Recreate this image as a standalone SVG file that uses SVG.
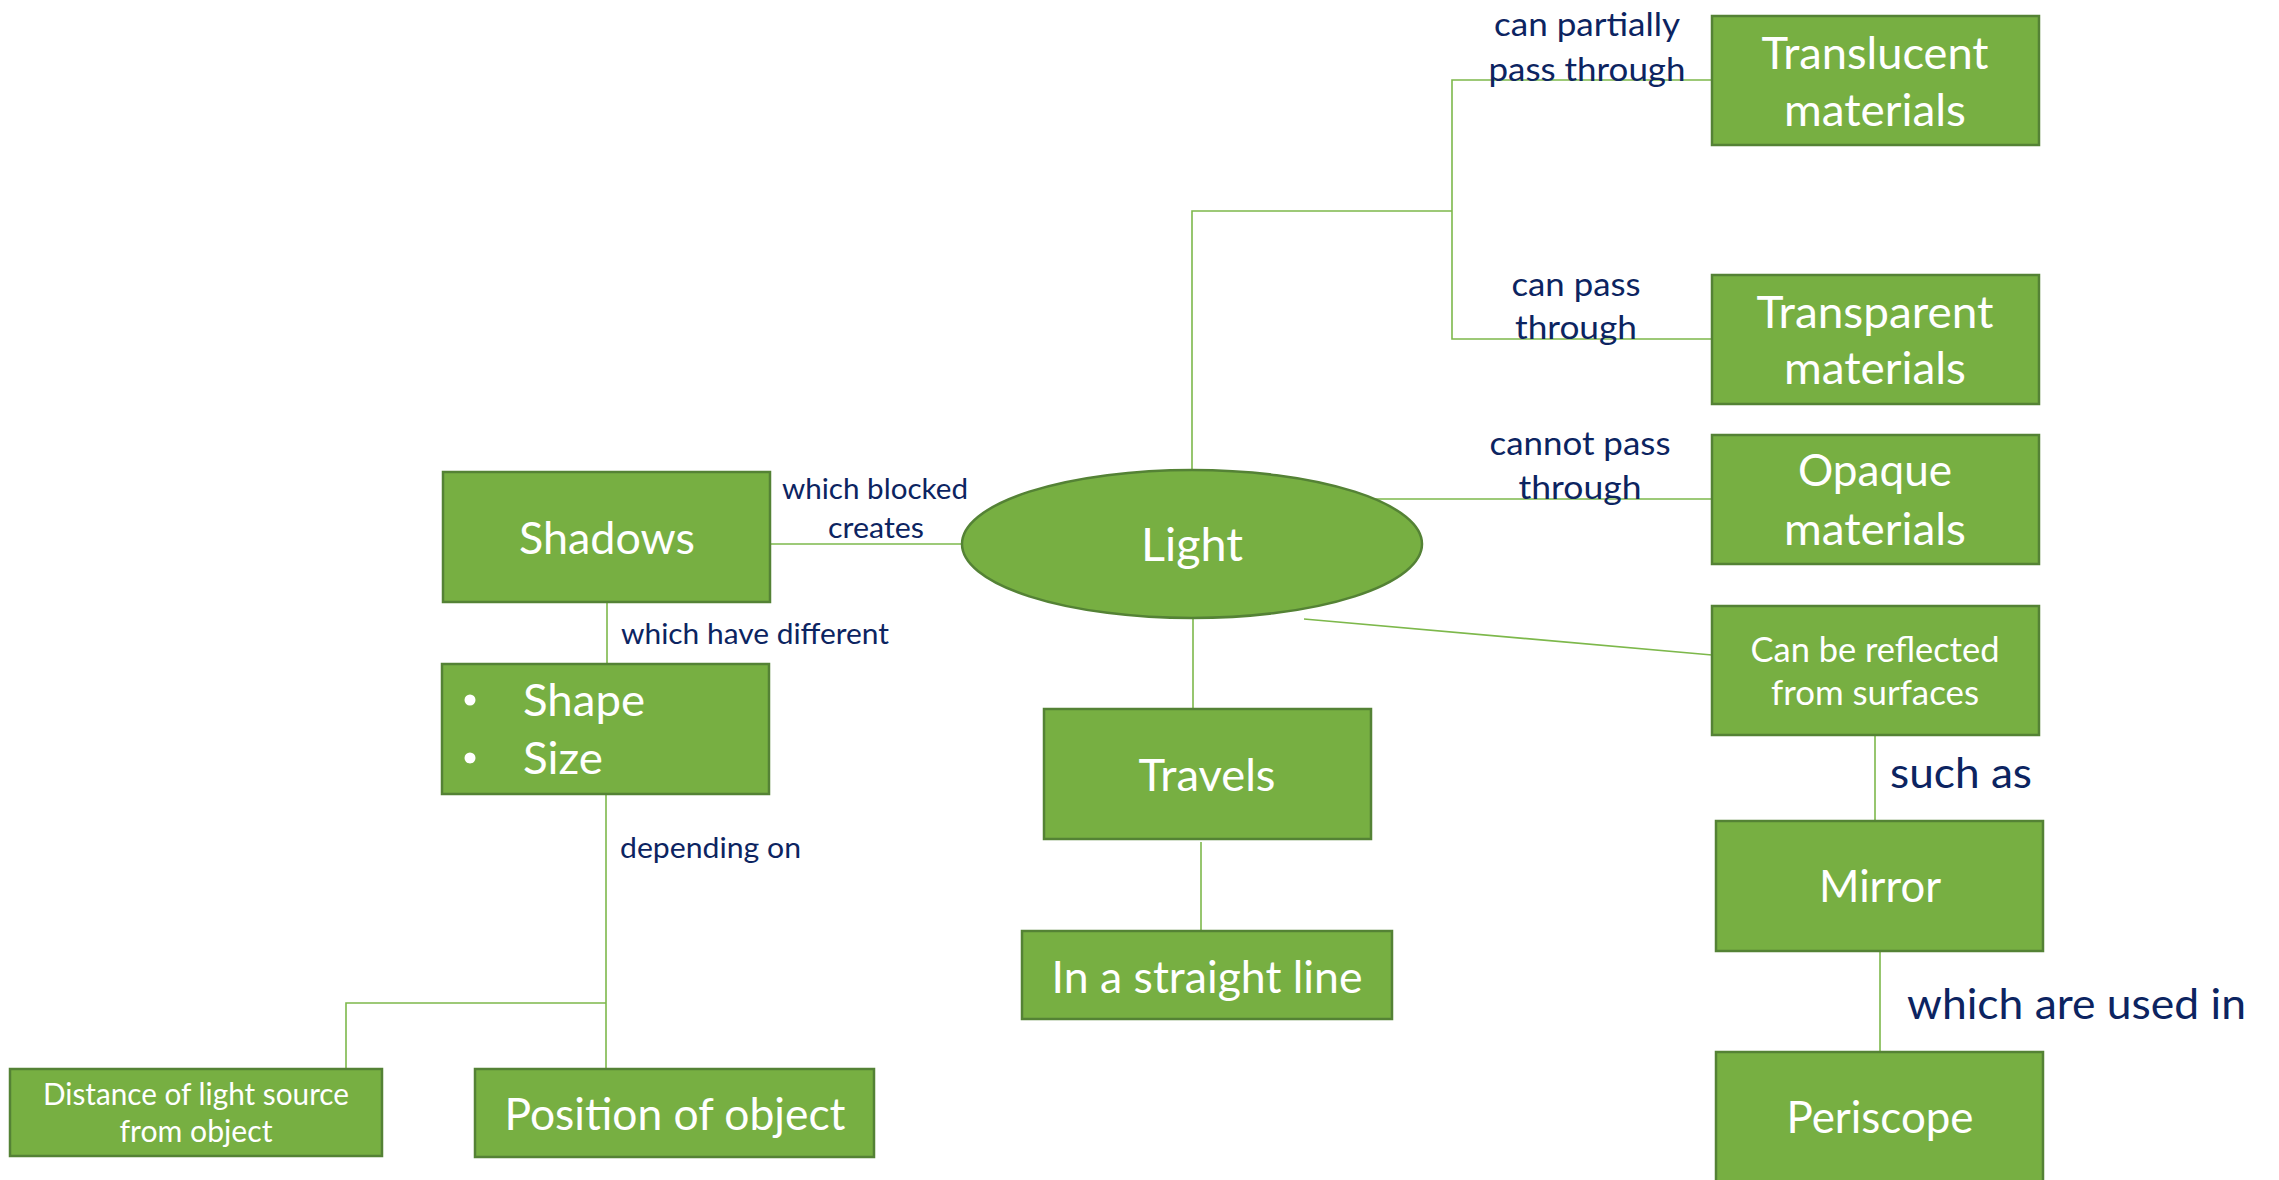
<svg xmlns="http://www.w3.org/2000/svg" width="2279" height="1180" viewBox="0 0 2279 1180">
<style>
.box{fill:#77AF42;stroke:#548235;stroke-width:2.5}
.conn{fill:none;stroke:#7DB84B;stroke-width:1.6}
.t{font-family:Lato,"Liberation Sans",sans-serif;fill:#FFFFFF;text-anchor:middle}
.tl{font-family:Lato,"Liberation Sans",sans-serif;fill:#FFFFFF;text-anchor:start}
.l{font-family:Lato,"Liberation Sans",sans-serif;fill:#0C2461;text-anchor:middle}
.ls{font-family:Lato,"Liberation Sans",sans-serif;fill:#0C2461;text-anchor:start}
</style>
<rect width="2279" height="1180" fill="#FFFFFF"/>
<g id="connectors">
<path class="conn" d="M1192 469 V211 H1452"/>
<path class="conn" d="M1712 80 H1452 V339 H1712"/>
<path class="conn" d="M1374 499 H1712"/>
<path class="conn" d="M1304 619 L1712 655"/>
<path class="conn" d="M1875 735 V821"/>
<path class="conn" d="M1880 951 V1052"/>
<path class="conn" d="M1193 618 V709"/>
<path class="conn" d="M1201 842 V931"/>
<path class="conn" d="M770 544 H962"/>
<path class="conn" d="M607 602 V664"/>
<path class="conn" d="M606 794 V1069"/>
<path class="conn" d="M346 1069 V1003 H606"/>
</g>
<g id="labels">
<text class="l" font-size="33" x="1587" y="36" textLength="186" lengthAdjust="spacingAndGlyphs">can partially</text>
<text class="l" font-size="33" x="1587" y="81" textLength="197" lengthAdjust="spacingAndGlyphs">pass through</text>
<text class="l" font-size="33" x="1576" y="296" textLength="129" lengthAdjust="spacingAndGlyphs">can pass</text>
<text class="l" font-size="33" x="1576" y="339" textLength="122" lengthAdjust="spacingAndGlyphs">through</text>
<text class="l" font-size="33" x="1580" y="455" textLength="181" lengthAdjust="spacingAndGlyphs">cannot pass</text>
<text class="l" font-size="33" x="1580" y="499" textLength="123" lengthAdjust="spacingAndGlyphs">through</text>
<text class="l" font-size="28" x="875" y="499" textLength="186" lengthAdjust="spacingAndGlyphs">which blocked</text>
<text class="l" font-size="28" x="876" y="538" textLength="96" lengthAdjust="spacingAndGlyphs">creates</text>
<text class="ls" font-size="28" x="621" y="644" textLength="268" lengthAdjust="spacingAndGlyphs">which have different</text>
<text class="ls" font-size="28" x="620" y="858" textLength="181" lengthAdjust="spacingAndGlyphs">depending on</text>
<text class="ls" font-size="43" x="1890" y="788" textLength="142" lengthAdjust="spacingAndGlyphs">such as</text>
<text class="ls" font-size="43" x="1907" y="1019" textLength="339" lengthAdjust="spacingAndGlyphs">which are used in</text>
</g>
<g id="translucent">
<rect class="box" x="1712" y="16" width="327" height="129"/>
<text class="t" font-size="44" x="1875" y="69" textLength="227" lengthAdjust="spacingAndGlyphs">Translucent</text>
<text class="t" font-size="44" x="1875" y="126" textLength="182" lengthAdjust="spacingAndGlyphs">materials</text>
</g>
<g id="transparent">
<rect class="box" x="1712" y="275" width="327" height="129"/>
<text class="t" font-size="44" x="1875" y="328" textLength="237" lengthAdjust="spacingAndGlyphs">Transparent</text>
<text class="t" font-size="44" x="1875" y="384" textLength="182" lengthAdjust="spacingAndGlyphs">materials</text>
</g>
<g id="opaque">
<rect class="box" x="1712" y="435" width="327" height="129"/>
<text class="t" font-size="44" x="1875" y="486" textLength="154" lengthAdjust="spacingAndGlyphs">Opaque</text>
<text class="t" font-size="44" x="1875" y="545" textLength="182" lengthAdjust="spacingAndGlyphs">materials</text>
</g>
<g id="reflected">
<rect class="box" x="1712" y="606" width="327" height="129"/>
<text class="t" font-size="34" x="1875" y="662" textLength="249" lengthAdjust="spacingAndGlyphs">Can be reflected</text>
<text class="t" font-size="34" x="1875" y="705" textLength="208" lengthAdjust="spacingAndGlyphs">from surfaces</text>
</g>
<g id="mirror">
<rect class="box" x="1716" y="821" width="327" height="130"/>
<text class="t" font-size="44" x="1880" y="902" textLength="122" lengthAdjust="spacingAndGlyphs">Mirror</text>
</g>
<g id="periscope">
<rect class="box" x="1716" y="1052" width="327" height="140"/>
<text class="t" font-size="44" x="1880" y="1133" textLength="187" lengthAdjust="spacingAndGlyphs">Periscope</text>
</g>
<g id="light">
<ellipse class="box" cx="1192" cy="544" rx="230" ry="74"/>
<text class="t" font-size="46" x="1192" y="561" textLength="102" lengthAdjust="spacingAndGlyphs">Light</text>
</g>
<g id="shadows">
<rect class="box" x="443" y="472" width="327" height="130"/>
<text class="t" font-size="44" x="607" y="554" textLength="176" lengthAdjust="spacingAndGlyphs">Shadows</text>
</g>
<g id="shape-size">
<rect class="box" x="442" y="664" width="327" height="130"/>
<circle cx="470" cy="700" r="5.5" fill="#FFFFFF"/>
<circle cx="470" cy="758" r="5.5" fill="#FFFFFF"/>
<text class="tl" font-size="44" x="523" y="716" textLength="122" lengthAdjust="spacingAndGlyphs">Shape</text>
<text class="tl" font-size="44" x="523" y="774" textLength="80" lengthAdjust="spacingAndGlyphs">Size</text>
</g>
<g id="travels">
<rect class="box" x="1044" y="709" width="327" height="130"/>
<text class="t" font-size="44" x="1207" y="791" textLength="137" lengthAdjust="spacingAndGlyphs">Travels</text>
</g>
<g id="straight-line">
<rect class="box" x="1022" y="931" width="370" height="88"/>
<text class="t" font-size="44" x="1207" y="993" textLength="311" lengthAdjust="spacingAndGlyphs">In a straight line</text>
</g>
<g id="distance">
<rect class="box" x="10" y="1069" width="372" height="87"/>
<text class="t" font-size="30" x="196" y="1105" textLength="306" lengthAdjust="spacingAndGlyphs">Distance of light source</text>
<text class="t" font-size="30" x="196" y="1142" textLength="153" lengthAdjust="spacingAndGlyphs">from object</text>
</g>
<g id="position">
<rect class="box" x="475" y="1069" width="399" height="88"/>
<text class="t" font-size="44" x="675" y="1130" textLength="341" lengthAdjust="spacingAndGlyphs">Position of object</text>
</g>
</svg>
